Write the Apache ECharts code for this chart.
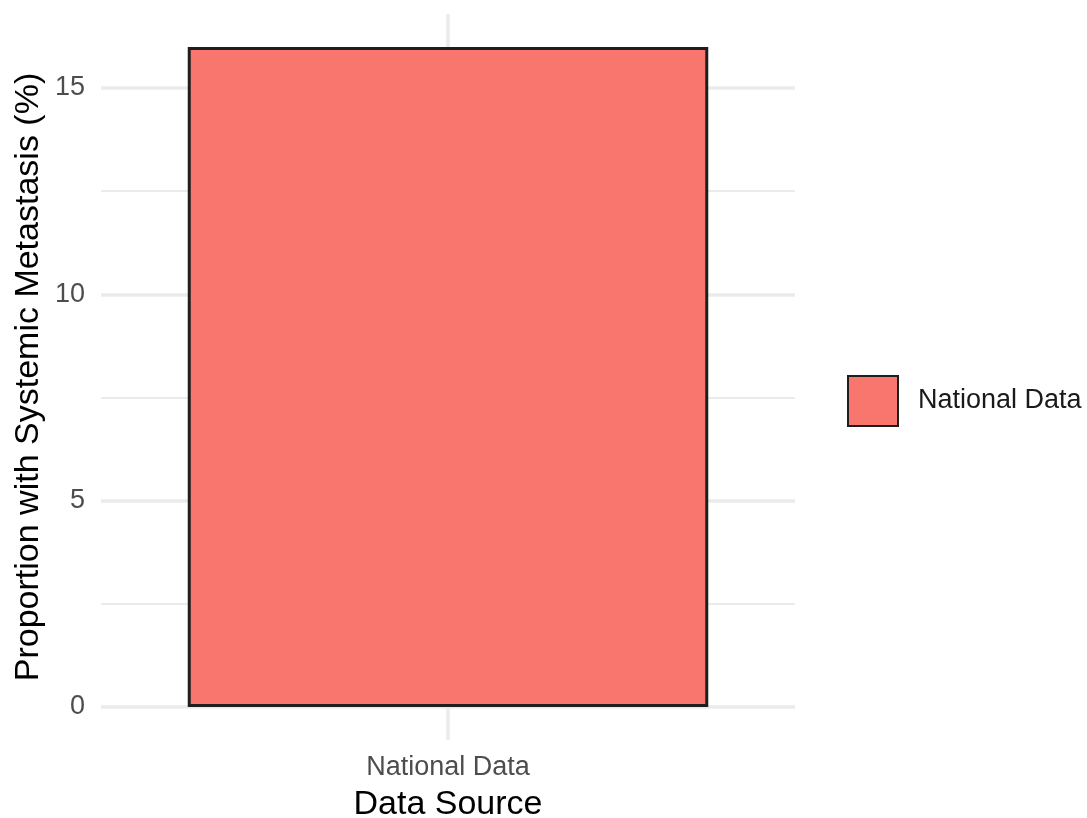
<!DOCTYPE html>
<html>
<head>
<meta charset="utf-8">
<script src="https://cdn.jsdelivr.net/npm/echarts@6/dist/echarts.min.js"></script>
<style>html,body{margin:0;padding:0;background:#fff;}#c{width:1087px;height:818px;}</style>
</head>
<body>
<div id="c"></div>
<script>
const categories = ['National Data'];
const values = [16];
const seriesName = 'National Data';
const xTitle = 'Data Source';
const yTitle = 'Proportion with Systemic Metastasis (%)';

const FONT = 'Liberation Sans, Arial, Helvetica, sans-serif';
const GRID_COLOR = '#ebebeb';
const chart = echarts.init(document.getElementById('c'));
chart.setOption({
  backgroundColor: '#ffffff',
  animation: false,
  textStyle: { fontFamily: FONT },
  grid: [
    { left: 101, right: 292, top: 14, bottom: 78, outerBoundsMode: 'none', containLabel: false },
    { left: 101, right: 292, top: 88, bottom: 111, outerBoundsMode: 'none', containLabel: false }
  ],
  legend: {
    data: [seriesName],
    icon: 'rect',
    left: 842, top: 370,
    itemWidth: 50, itemHeight: 50,
    textStyle: { fontSize: 27, color: '#1a1a1a', fontFamily: FONT, padding: [0, 0, 0, 15] }
  },
  xAxis: [
    {
      type: 'category', gridIndex: 0, data: categories,
      axisLine: { show: false }, axisTick: { show: false },
      splitLine: { show: false },
      axisLabel: { fontSize: 27, color: '#4d4d4d', margin: 14, fontFamily: FONT },
      name: xTitle, nameLocation: 'middle', nameGap: 48,
      nameTextStyle: { fontSize: 34, color: '#000', fontFamily: FONT }
    },
    {
      type: 'value', gridIndex: 0, min: 0, max: 2, interval: 1,
      axisLine: { show: false }, axisTick: { show: false }, axisLabel: { show: false },
      splitLine: { show: true, showMinLine: false, showMaxLine: false, lineStyle: { color: GRID_COLOR, width: 3.5 } }
    },
    {
      type: 'value', gridIndex: 1, min: 0, max: 1, show: false
    }
  ],
  yAxis: [
    {
      type: 'value', gridIndex: 0, min: -0.8, max: 16.8,
      axisLine: { show: false }, axisTick: { show: false }, axisLabel: { show: false },
      splitLine: { show: false },
      name: yTitle, nameLocation: 'middle', nameGap: 55, nameRotate: 90,
      nameTextStyle: { fontSize: 34, color: '#000', fontFamily: FONT }
    },
    {
      type: 'value', gridIndex: 1, min: 0, max: 15, interval: 5,
      axisLine: { show: false }, axisTick: { show: false },
      axisLabel: { fontSize: 27, color: '#4d4d4d', margin: 16, fontFamily: FONT },
      splitLine: { show: true, lineStyle: { color: GRID_COLOR, width: 3.5 } },
      minorTick: { show: false, splitNumber: 2 },
      minorSplitLine: { show: true, lineStyle: { color: GRID_COLOR, width: 2 } }
    }
  ],
  series: [
    {
      name: seriesName, type: 'bar', xAxisIndex: 0, yAxisIndex: 0,
      data: values, barWidth: '75%',
      itemStyle: { color: '#F8766D', borderColor: '#1e1e1e', borderWidth: 3 },
      z: 3
    }
  ]
});
</script>
</body>
</html>
